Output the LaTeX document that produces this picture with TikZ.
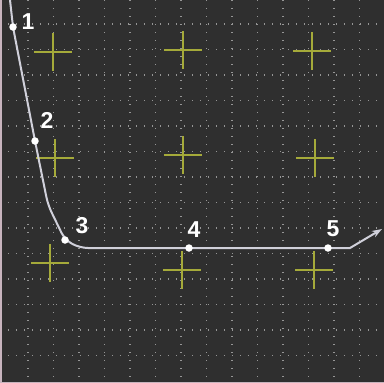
\documentclass[tikz,border=0pt]{standalone}
\usepackage{fontspec}
\setmainfont{Liberation Sans}
\usetikzlibrary{arrows.meta,positioning,calc,backgrounds}
\definecolor{boardbg}{RGB}{47,47,47}
\definecolor{gridc}{RGB}{150,150,150}
\definecolor{crossc}{RGB}{165,170,58}
\definecolor{trackc}{RGB}{208,208,218}
\definecolor{edgec}{RGB}{200,180,190}

\tikzset{
  waypt/.style={circle,fill=white,inner sep=0pt,minimum size=7.5pt},
  wplabel/.style={text=white,inner sep=0pt,
                  font=\bfseries\fontsize{23}{23}\selectfont},
  gridline/.style={gridc,line width=1.1pt,dash pattern=on 1.3pt off 6.7pt},
  marker/.pic={\draw[crossc,line width=2.2pt] (-19,0) -- (19,0) (0,-19) -- (0,19);}
}

\begin{document}
\begin{tikzpicture}[x=1pt,y=-1pt]
\useasboundingbox (0,0) rectangle (384,383);
\begin{scope}[on background layer]
\fill[boardbg] (0,0) rectangle (384,383);
\foreach \k in {0,...,13}{
  \draw[gridline] ({28+25.5*\k},0) -- ({28+25.5*\k},383);
  \draw[gridline] (0,{24+25.5*\k}) -- (384,{24+25.5*\k});
}
\draw[edgec,line width=1.5pt] (0.75,0) -- (0.75,382.25) -- (384,382.25);
\foreach \x/\y in {53/52,183/50,312/51,55/158,183/155,315/158,50/263,182/270,314/270}
  \pic at (\x,\y) {marker};
\end{scope}

\node[waypt] (p1) at (13,27) {};
\node[waypt] (p2) at (35,141) {};
\node[waypt] (p3) at (65,240) {};
\node[waypt] (p4) at (189,248) {};
\node[waypt] (p5) at (328,248) {};

\node[wplabel] (l1) at (28,22) {1};
\node[wplabel] (l2) at (47,120) {2};
\node[wplabel] (l3) at (82,226) {3};
\node[wplabel] (l4) at (194,230) {4};
\node[wplabel] (l5) at (333,229) {5};

\coordinate (start) at (10,0);
\coordinate (knee) at (48,205);
\coordinate (bend) at (80,248);
\coordinate (kink) at (350,248);
\coordinate (tip) at (382,229);

\begin{scope}[on background layer]
\draw[trackc,line width=2pt,rounded corners=8pt,-{Stealth[length=10pt,width=7pt]}]
  (start) -- (p1.center) -- (p2.center) -- (knee) -- (p3.center) -- (bend)
  -- (p4.center) -- (p5.center) [sharp corners] -- (kink) -- (tip);
\end{scope}
\end{tikzpicture}
\end{document}
